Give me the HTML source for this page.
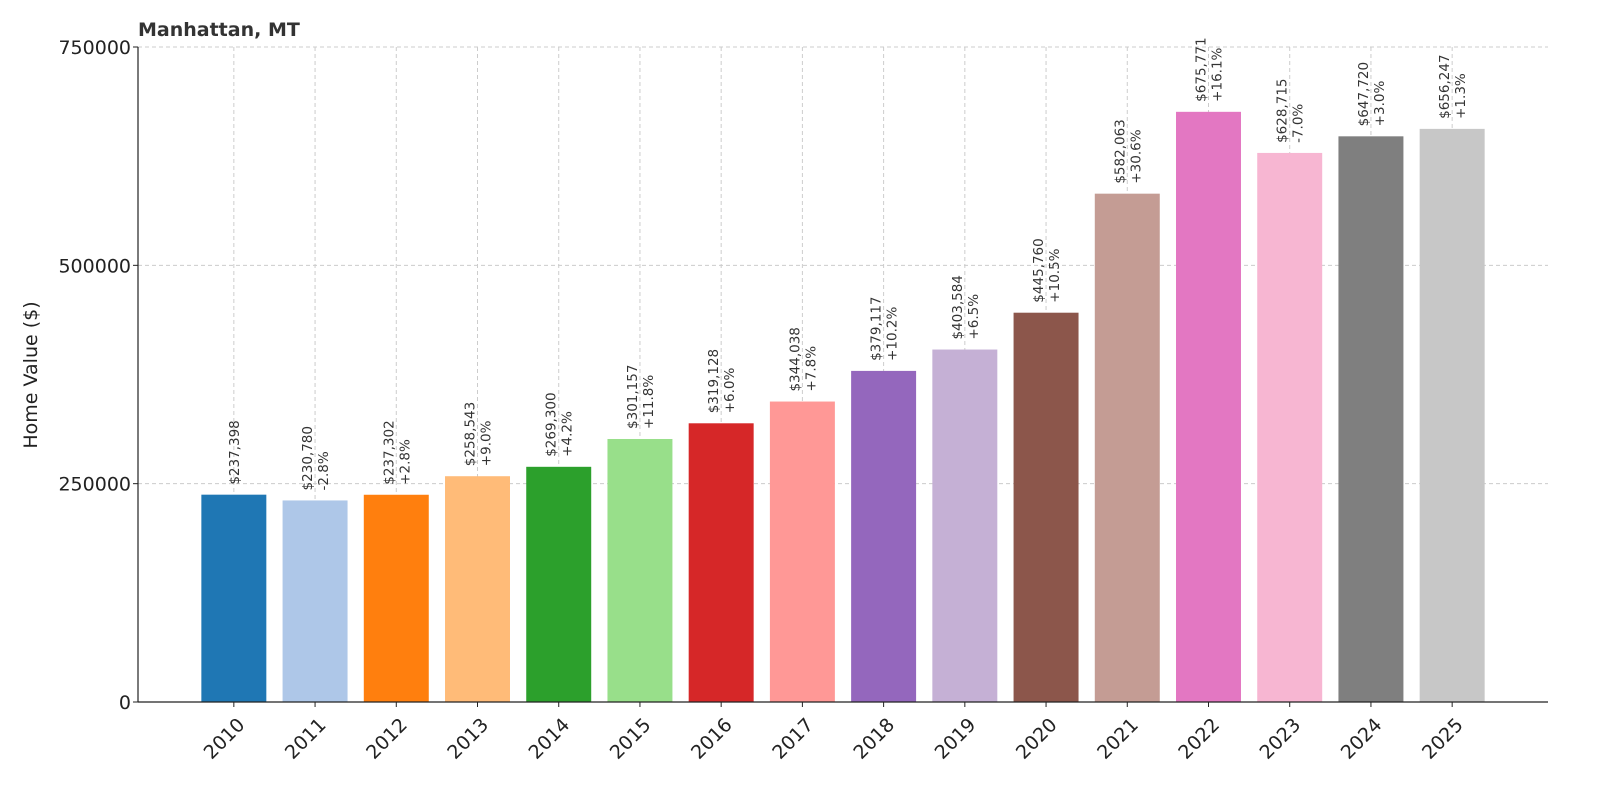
<!DOCTYPE html>
<html><head><meta charset="utf-8"><style>
body{margin:0;background:#fff;}
svg{font-family:"DejaVu Sans","Liberation Sans",sans-serif;}
</style></head><body>
<svg id="chart" width="1600" height="800" xmlns="http://www.w3.org/2000/svg">
<text x="138" y="36" font-size="19" font-weight="bold" fill="#333">Manhattan, MT</text>
<text transform="translate(37,375) rotate(-90)" text-anchor="middle" font-size="19" fill="#222">Home Value ($)</text>
<g id="grid"></g><g id="bars"></g><g id="labels"></g><g id="axes"></g>
</svg>
<script>
const years=["2010","2011","2012","2013","2014","2015","2016","2017","2018","2019","2020","2021","2022","2023","2024","2025"];
const values=[237398,230780,237302,258543,269300,301157,319128,344038,379117,403584,445760,582063,675771,628715,647720,656247];
const pctLabels=["","-2.8%","+2.8%","+9.0%","+4.2%","+11.8%","+6.0%","+7.8%","+10.2%","+6.5%","+10.5%","+30.6%","+16.1%","-7.0%","+3.0%","+1.3%"];
const yTicks=[0,250000,500000,750000];
const colors=["#1f77b4","#aec7e8","#ff7f0e","#ffbb78","#2ca02c","#98df8a","#d62728","#ff9896","#9467bd","#c5b0d5","#8c564b","#c49c94","#e377c2","#f7b6d2","#7f7f7f","#c7c7c7"];
const NS="http://www.w3.org/2000/svg";
const L=138,R=1548,T=47,B=702,yMax=750000;
const step=(R-L)/(years.length-1+2*1.18);
const xs=i=>L+step*(1.18+i);
const ys=v=>B-(v/yMax)*(B-T);
const bw=step*0.8;
function mk(tag,attrs,parent){const e=document.createElementNS(NS,tag);for(const k in attrs)e.setAttribute(k,attrs[k]);parent.appendChild(e);return e;}
const grid=document.getElementById('grid'),bars=document.getElementById('bars'),labels=document.getElementById('labels'),axes=document.getElementById('axes');
yTicks.forEach(t=>{
 const g=mk('line',{x1:L,x2:R,y1:ys(t),y2:ys(t),stroke:'#ccc','stroke-dasharray':'4,3','stroke-width':1},grid);
 
 
 const tk=mk('line',{x1:L-5,x2:L,y1:ys(t),y2:ys(t),stroke:'#222'},axes);
 
 
 const tx=mk('text',{x:L-7,y:ys(t)+7,'text-anchor':'end','font-size':19,fill:'#222'},axes);
 tx.textContent=t;
 
 
});
years.forEach((y,i)=>{
 const cx=xs(i);
 const g=mk('line',{x1:cx,x2:cx,y1:T,y2:B,stroke:'#ccc','stroke-dasharray':'4,3','stroke-width':1},grid);
 
 
 const r=mk('rect',{x:cx-bw/2,y:ys(values[i]),width:bw,height:B-ys(values[i]),fill:colors[i]},bars);
 
 
 const top=ys(values[i])-10;
 const t=mk('text',{transform:`translate(${cx},${top}) rotate(-90)`,'font-size':13.5,fill:'#333'},labels);
 
 
 const v='$'+values[i].toLocaleString('en-US');
 if(pctLabels[i]){
  const a=mk('tspan',{x:0,y:-3},t);a.textContent=v;
  const b=mk('tspan',{x:0,y:13},t);b.textContent=pctLabels[i];
 } else {const a=mk('tspan',{x:0,y:5},t);a.textContent=v;}
 const tk=mk('line',{x1:cx,x2:cx,y1:B,y2:B+5,stroke:'#222'},axes);
 
 
 const xl=mk('text',{transform:`translate(${cx+12},${B+24}) rotate(-45)`,'text-anchor':'end','font-size':19,fill:'#222'},axes);
 xl.textContent=y;
 
 
});
const la=mk('line',{x1:L,x2:L,y1:T,y2:B,stroke:'#222','stroke-width':1.2},axes);


const ba=mk('line',{x1:L,x2:R,y1:B,y2:B,stroke:'#222','stroke-width':1.2},axes);


</script>
</body></html>
